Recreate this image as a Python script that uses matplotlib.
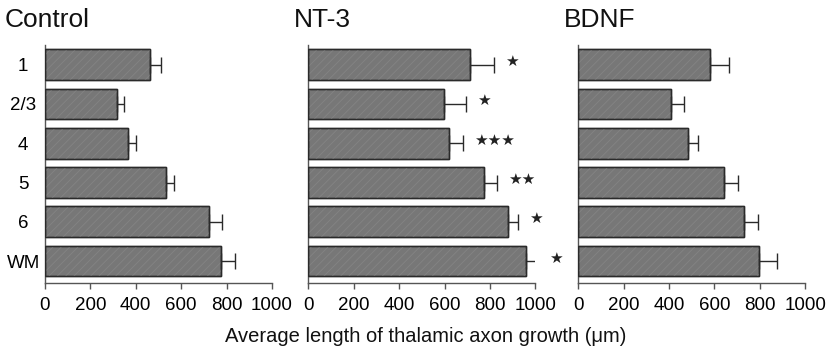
import matplotlib
matplotlib.use("Agg")
import matplotlib.pyplot as plt

plt.rcParams['font.family'] = ['Liberation Sans', 'DejaVu Sans']
plt.rcParams['hatch.linewidth'] = 0.6

layers = ["1", "2/3", "4", "5", "6", "WM"]
panels = ["Control", "NT-3", "BDNF"]
control_mean = [463, 316, 367, 532, 724, 774]
control_err = [49, 33, 33, 36, 57, 63]
nt3_mean = [713, 596, 622, 776, 879, 957]
nt3_err = [106, 100, 59, 55, 46, 56]
bdnf_mean = [581, 409, 482, 640, 732, 796]
bdnf_err = [84, 57, 44, 63, 58, 79]
nt3_stars = [1, 1, 3, 2, 1, 1]
xticks = [0, 200, 400, 600, 800, 1000]
xlabel = "Average length of thalamic axon growth (\u03bcm)"

means = [control_mean, nt3_mean, bdnf_mean]
errs = [control_err, nt3_err, bdnf_err]
stars = [None, nt3_stars, None]

fig = plt.figure(figsize=(8.29, 3.54), dpi=100)
lefts = [45 / 829, 308.3 / 829, 578.3 / 829]
title_x = [5 / 829, 294 / 829, 564 / 829]
W, H = 227 / 829, 237.7 / 354
B = 1 - 282.7 / 354

ypos = list(range(len(layers)))
for i in range(3):
    ax = fig.add_axes([lefts[i], B, W, H])
    ax.barh(ypos, means[i], height=0.78, color='#777777', edgecolor='#2a2a2a',
            linewidth=1.0, zorder=2)
    ax.barh(ypos, means[i], height=0.78, color='none', edgecolor='#848484',
            linewidth=0, hatch='////', zorder=2.5)
    ax.barh(ypos, means[i], height=0.78, color='none', edgecolor='#2a2a2a',
            linewidth=1.0, zorder=2.6)
    ax.errorbar(means[i], ypos, xerr=[[0] * len(ypos), errs[i]], fmt='none',
                ecolor='#2a2a2a', elinewidth=1.0, capsize=5.5, capthick=1.0, zorder=3)
    if stars[i] is not None:
        for y, m, e, n in zip(ypos, means[i], errs[i], stars[i]):
            ax.text(m + e + 48, y - 0.08, "\u2605" * n, fontsize=11, ha='left',
                    va='center', color='#222222', family='DejaVu Sans', clip_on=False)
    ax.set_xlim(0, 1000)
    ax.set_ylim(5.55, -0.5)
    ax.set_xticks(xticks)
    ax.set_xticklabels([str(t) for t in xticks])
    ax.set_yticks(ypos)
    if i == 0:
        ax.set_yticklabels(layers, ha='center')
    else:
        ax.set_yticklabels([])
    ax.tick_params(axis='y', length=0, pad=15.8, labelsize=13.5)
    ax.tick_params(axis='x', length=4, width=1.0, pad=6, labelsize=13.5,
                   color='#555555', direction='out')
    for sp in ['top', 'right']:
        ax.spines[sp].set_visible(False)
    for sp in ['left', 'bottom']:
        ax.spines[sp].set_color('#555555')
        ax.spines[sp].set_linewidth(1.0)
    fig.text(title_x[i], 1 - 20 / 354, panels[i], fontsize=19, ha='left',
             va='center', color='#111111')

fig.text(425.5 / 829, 1 - 336 / 354, xlabel, fontsize=14.5, ha='center', va='center',
         color='#111111')
fig.savefig("out.png", dpi=100)
